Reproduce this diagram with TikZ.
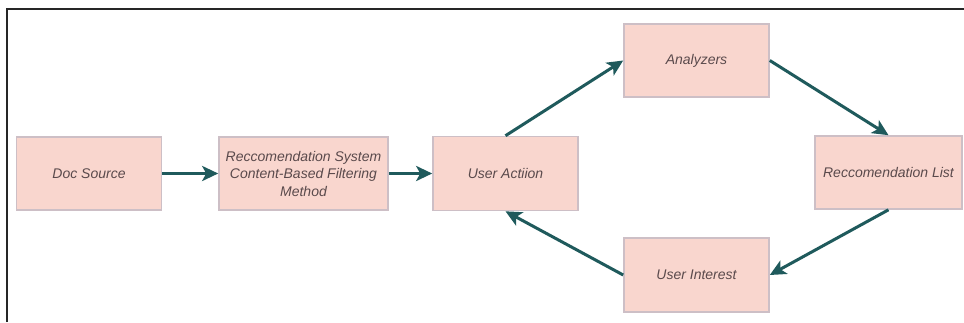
\documentclass[tikz,border=0pt]{standalone}
\usepackage{fontspec}
\setmainfont{Liberation Sans}
\usetikzlibrary{arrows.meta}
\definecolor{boxfill}{HTML}{F9D6CE}
\definecolor{boxdraw}{HTML}{CDBFC6}
\definecolor{txt}{HTML}{5A4A4C}
\definecolor{arr}{HTML}{1F5A5C}
\begin{document}
\begin{tikzpicture}[x=1pt,y=1pt,
  blk/.style={draw=boxdraw, line width=1.6pt, fill=boxfill, minimum width=145pt, minimum height=73pt,
    inner sep=2pt, align=center, text=txt, font=\fontsize{14}{17.5}\selectfont\itshape},
  conn/.style={draw=arr, line width=3pt, -{Stealth[length=16pt,width=15pt,inset=4pt]}}]
\useasboundingbox (0,0) rectangle (964,322);
\fill[white] (0,0) rectangle (964,322);
\draw[line width=2.6pt, black!85] (7,0) -- (7,313) -- (964,313);
\node[blk] (doc) at (89,148.5) {Doc Source};
\node[blk, minimum width=169pt] (rec) at (303.5,148.5) {Reccomendation System\\Content-Based Filtering\\Method};
\node[blk, minimum height=74pt] (ua) at (505.5,148.5) {User Actiion};
\node[blk] (an) at (696.5,261.5) {Analyzers};
\node[blk, minimum width=147pt] (rl) at (888.5,149.5) {Reccomendation List};
\node[blk, minimum height=74pt] (ui) at (696.5,47) {User Interest};
\draw[conn] (doc) -- (rec);
\draw[conn] (rec) -- (ua);
\draw[conn] (ua.north) -- (an.west);
\draw[conn] (an.east) -- (rl.north);
\draw[conn] (rl.south) -- (ui.east);
\draw[conn] (ui.west) -- (ua.south);
\end{tikzpicture}
\end{document}
